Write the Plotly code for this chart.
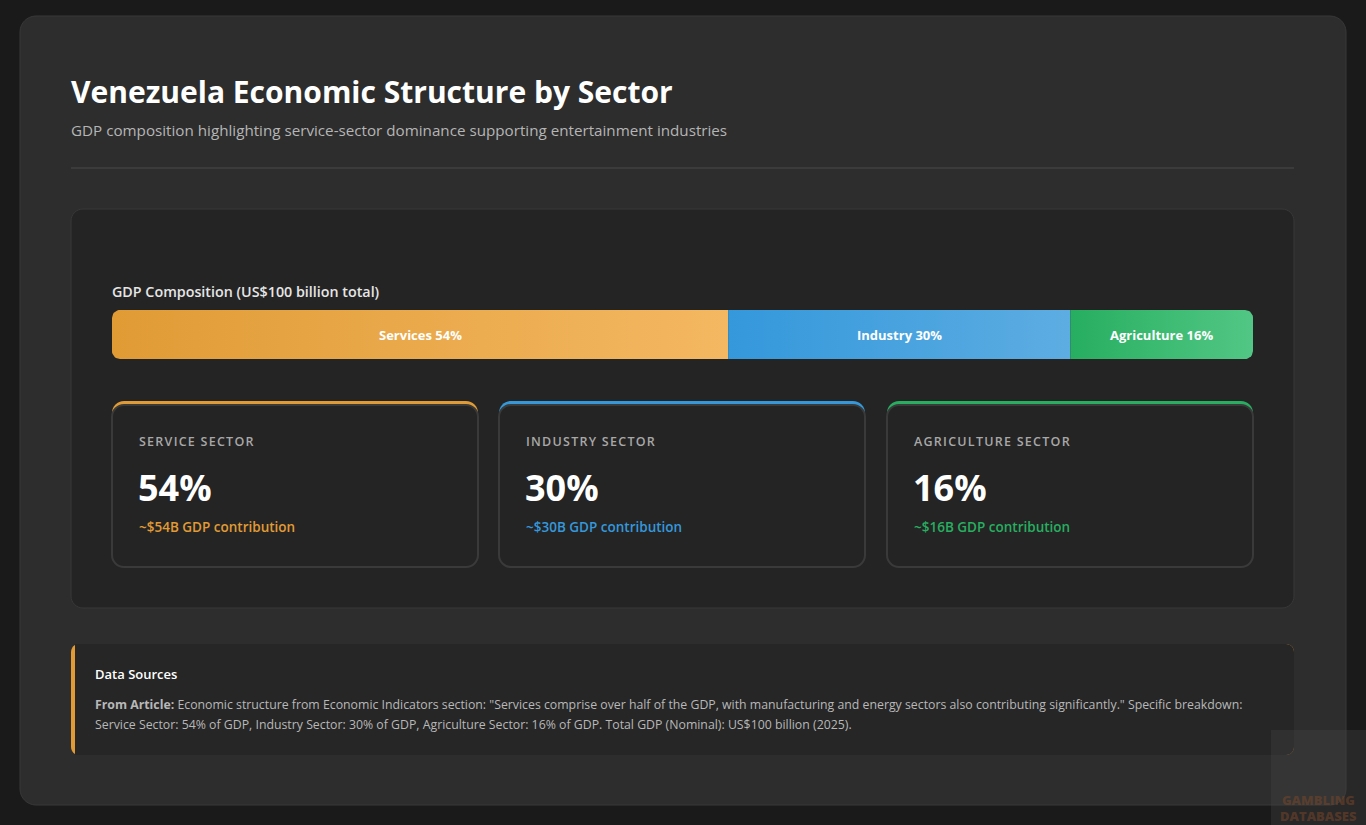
import numpy as np
import plotly.graph_objects as go

# ---------------- data ----------------
sectors = ["Services", "Industry", "Agriculture"]
shares = [54, 30, 16]                      # % of GDP
card_labels = ["SERVICE SECTOR", "INDUSTRY SECTOR", "AGRICULTURE SECTOR"]
contrib_labels = ["~$54B GDP contribution", "~$30B GDP contribution", "~$16B GDP contribution"]
total_gdp_label = "GDP Composition (US$100 billion total)"

# ---------------- styles ----------------
grad = [("#e09b35", "#f4b862"), ("#3498db", "#5dade2"), ("#27ae60", "#52c785")]
accent = ["#e09b35", "#3498db", "#27ae60"]
FONT = "Segoe UI, Open Sans, Noto Sans, sans-serif"
W, H = 1366, 825

fig = go.Figure()

# invisible trace to anchor the pixel axes
fig.add_trace(go.Scatter(x=[0, W], y=[0, H], mode="markers", marker=dict(opacity=0),
                         hoverinfo="skip", showlegend=False, xaxis="x", yaxis="y"))


def rrect(x0, y0, x1, y1, r, tl=True, tr=True, br=True, bl=True):
    k = 0.5523 * r
    p = []
    p.append(f"M{x0 + (r if tl else 0)},{y0}")
    if tr:
        p.append(f"L{x1 - r},{y0} C{x1 - r + k},{y0} {x1},{y0 + r - k} {x1},{y0 + r}")
    else:
        p.append(f"L{x1},{y0}")
    if br:
        p.append(f"L{x1},{y1 - r} C{x1},{y1 - r + k} {x1 - r + k},{y1} {x1 - r},{y1}")
    else:
        p.append(f"L{x1},{y1}")
    if bl:
        p.append(f"L{x0 + r},{y1} C{x0 + r - k},{y1} {x0},{y1 - r + k} {x0},{y1 - r}")
    else:
        p.append(f"L{x0},{y1}")
    if tl:
        p.append(f"L{x0},{y0 + r} C{x0},{y0 + r - k} {x0 + r - k},{y0} {x0 + r},{y0}")
    else:
        p.append(f"L{x0},{y0}")
    p.append("Z")
    return " ".join(p)


shapes = []


def add_box(x0, y0, x1, y1, r, fill, line=None, lw=0, **kw):
    shapes.append(dict(type="path", path=rrect(x0, y0, x1, y1, r, **kw), xref="x", yref="y",
                       fillcolor=fill, line=dict(color=line or fill, width=lw), layer="below"))


# outer container
add_box(20, 16, 1346, 805, 16, "#2d2d2d", "#383838", 1)
# separator under header
shapes.append(dict(type="line", x0=71, x1=1294, y0=168, y1=168, xref="x", yref="y",
                   line=dict(color="#404040", width=1.5), layer="below"))
# chart card
add_box(71, 209, 1294, 608, 12, "#242424", "#383838", 1)

# sector cards
card_x = [112, 499, 887]
card_w = 366
for i, cx in enumerate(card_x):
    add_box(cx, 401, cx + card_w, 401 + 18, 12, accent[i], accent[i], 0, br=False, bl=False)
    add_box(cx, 405, cx + card_w, 567, 12, "#242424", "#3a3a3a", 2)

# data sources box
add_box(71, 644, 1294, 755, 8, accent[0], accent[0], 0)
add_box(75, 644, 1294, 755, 8, "#262626", "#262626", 0, tl=False, bl=False)

# watermark box
shapes.append(dict(type="rect", x0=1271, x1=1366, y0=730, y1=825, xref="x", yref="y",
                   fillcolor="rgba(70,70,70,0.35)", line=dict(width=0), layer="below"))

# ---------------- stacked bar (gradient segments) ----------------
bar_px_w = 1253 - 112
bar_px_h = 359 - 310
rad = 8
rx = rad * 100 / bar_px_w
ry = rad / bar_px_h
cum = np.concatenate([[0], np.cumsum(shares)])
n = len(shares)
for i in range(n):
    x0, x1 = cum[i], cum[i + 1]
    xs, ys = [], []
    if i == 0:
        tb = np.linspace(3 * np.pi / 2, np.pi, 10)
        t = np.linspace(np.pi, np.pi / 2, 10)
        xs += list(x0 + rx + rx * np.cos(tb)); ys += list(ry + ry * np.sin(tb))
        xs += list(x0 + rx + rx * np.cos(t)); ys += list(1 - ry + ry * np.sin(t))
    else:
        xs += [x0, x0]; ys += [0, 1]
    if i == n - 1:
        t = np.linspace(np.pi / 2, 0, 10)
        tb = np.linspace(0, -np.pi / 2, 10)
        xs += list(x1 - rx + rx * np.cos(t)); ys += list(1 - ry + ry * np.sin(t))
        xs += list(x1 - rx + rx * np.cos(tb)); ys += list(ry + ry * np.sin(tb))
    else:
        xs += [x1, x1]; ys += [1, 0]
    xs.append(xs[0]); ys.append(ys[0])
    fig.add_trace(go.Scatter(
        x=xs, y=ys, mode="lines", fill="toself", line=dict(width=0),
        fillgradient=dict(type="horizontal", colorscale=[[0, grad[i][0]], [1, grad[i][1]]]),
        hoverinfo="skip", showlegend=False, xaxis="x2", yaxis="y2"))

annotations = []


def txt(x, y, s, size, color, weight="normal", xref="x", yref="y", xanchor="left"):
    annotations.append(dict(x=x, y=y, xref=xref, yref=yref, text=s, showarrow=False,
                            xanchor=xanchor, yanchor="middle", align="left",
                            font=dict(family=FONT, size=size, color=color, weight=weight)))


def spaced(s):
    return "\u200a".join(s)


# bar labels
for i in range(n):
    txt((cum[i] + cum[i + 1]) / 2, 0.5, f"{sectors[i]} {shares[i]}%", 13, "#ffffff", 700,
        xref="x2", yref="y2", xanchor="center")

# header
txt(69, 91, "Venezuela Economic Structure by Sector", 30, "#ffffff", 700)
txt(69, 130, "GDP composition highlighting service-sector dominance supporting entertainment industries",
    15.2, "#b5b5b5")
txt(110, 291, total_gdp_label, 14.3, "#e6e6e6", 600)

# card texts
for i, cx in enumerate(card_x):
    txt(cx + 25, 441, spaced(card_labels[i]), 12.5, "#a8a8a8", 600)
    txt(cx + 24, 487, f"{shares[i]}%", 36, "#ffffff", 700)
    txt(cx + 25, 527, contrib_labels[i], 13.5, accent[i], 600)

# data sources
txt(93, 674, "Data Sources", 13, "#ffffff", 600)
line1 = ("<b>From Article:</b> Economic structure from Economic Indicators section: \"Services comprise over half "
         "of the GDP, with manufacturing and energy sectors also contributing significantly.\" Specific breakdown:")
line2 = (f"Service Sector: {shares[0]}% of GDP, Industry Sector: {shares[1]}% of GDP, Agriculture Sector: "
         f"{shares[2]}% of GDP. Total GDP (Nominal): US$100 billion (2025).")
txt(93, 704, line1, 12.3, "#b8b8b8")
txt(93, 724, line2, 12.3, "#b8b8b8")

# watermark
txt(1318, 800, "GAMBLING", 13, "rgba(120,70,40,0.55)", 800, xanchor="center")
txt(1318, 816, "DATABASES", 13, "rgba(120,70,40,0.55)", 800, xanchor="center")

fig.update_layout(
    width=W, height=H, margin=dict(l=0, r=0, t=0, b=0),
    paper_bgcolor="#1a1a1a", plot_bgcolor="rgba(0,0,0,0)",
    showlegend=False, shapes=shapes, annotations=annotations,
    xaxis=dict(domain=[0, 1], range=[0, W], visible=False, fixedrange=True),
    yaxis=dict(domain=[0, 1], range=[H, 0], visible=False, fixedrange=True),
    xaxis2=dict(domain=[112 / W, 1253 / W], range=[0, 100], visible=False, anchor="y2", fixedrange=True),
    yaxis2=dict(domain=[1 - 359 / H, 1 - 310 / H], range=[0, 1], visible=False, anchor="x2", fixedrange=True),
    hovermode=False,
)

fig.write_html("out.html", config={"displayModeBar": False},
               post_script="document.body.style.margin='0';document.body.style.background='#1a1a1a';document.body.style.overflow='hidden';")
